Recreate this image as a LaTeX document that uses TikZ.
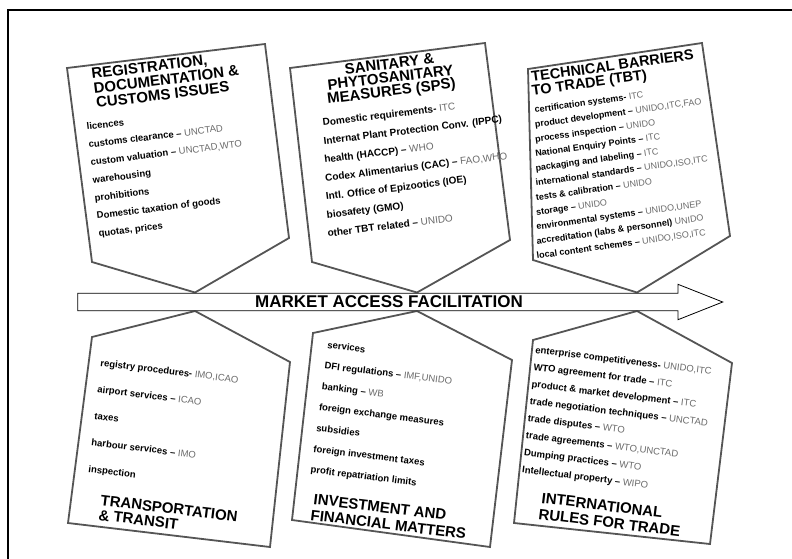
\documentclass[tikz,border=0pt]{standalone}
\usepackage{fontspec}
\setmainfont{Liberation Sans}
\usetikzlibrary{positioning}

\definecolor{panelgray}{HTML}{555555}
\definecolor{agency}{HTML}{6A6A6A}
\newcommand{\ag}[1]{{\mdseries\color{agency}#1}}

\tikzset{
  panel/.style={draw=panelgray, line width=1.8pt, fill=white, line join=miter},
  ttl/.style={inner sep=0pt, anchor=base west, font=\fontsize{15}{15}\selectfont\bfseries},
  itm/.style={inner sep=0pt, anchor=base west, font=\fontsize{9.5}{10}\selectfont\bfseries},
}

\begin{document}
\begin{tikzpicture}[x=1pt, y=-1pt]
	\useasboundingbox (0,0) rectangle (792,558);
	\draw[line width=1.2pt] (8,570) -- (8,10) -- (800,10);

	% panels
	\draw[panel] (67,68) -- (265,44) -- (289,238) -- (195,292.5) -- (92,262) -- cycle;
	\draw[panel] (290,68) -- (485,43) -- (510,240) -- (417,292.5) -- (312,262) -- cycle;
	\draw[panel] (528,69) -- (702,43) -- (730,236) -- (637,292.5) -- (533,260) -- cycle;
	\draw[panel] (195,311) -- (290,362) -- (270,547) -- (68,523) -- (92,337) -- cycle;
	\draw[panel] (417,311) -- (512,360) -- (490,547) -- (292,520) -- (313,333) -- cycle;
	\draw[panel] (637,311) -- (732,363) -- (710,544) -- (514,523) -- (533,340) -- cycle;

	% main arrow
	\draw[fill=white, line width=0.8pt] (77.7,293.3) -- (678,293.3) -- (678,284.3) -- (722.7,302)
		-- (678,319.7) -- (678,310.7) -- (77.7,310.7) -- cycle;
	\node[inner sep=0pt, anchor=base, font=\fontsize{17}{17}\selectfont\bfseries] (mafacil) at (389,307.5) {MARKET ACCESS FACILITATION};

	% registration
	\foreach \t [count=\i from 0] in {{REGISTRATION,}, DOCUMENTATION \&, CUSTOMS ISSUES}
		\node[ttl, rotate=7] (regt-\i) at ({92+2.3*\i},{79+14.5*\i}) {\t};
	\foreach \t [count=\i from 0] in {licences, {customs clearance -- \ag{UNCTAD}}, {custom valuation -- \ag{UNCTAD,WTO}},
		warehousing, prohibitions, Domestic taxation of goods, {quotas, prices}}
		\node[itm, rotate=7] (reg-\i) at ({87+2*\i},{130+17.8*\i}) {\t};

	% sps
	\foreach \t [count=\i from 0] in {SANITARY \&, PHYTOSANITARY, MEASURES (SPS)}
		\node[ttl, anchor=base, rotate=7] (spst-\i) at ({390+1*\i},{69+13.5*\i}) {\t};
	\foreach \t [count=\i from 0] in {{Domestic requirements- \ag{ITC}}, Internat Plant Protection Conv. (IPPC),
		{health (HACCP) -- \ag{WHO}}, {Codex Alimentarius (CAC) -- \ag{FAO,WHO}}, Intl. Office of Epizootics (IOE),
		biosafety (GMO), {other TBT related -- \ag{UNIDO}}}
		\node[itm, font=\fontsize{10}{10}\selectfont\bfseries, rotate=7] (sps-\i) at ({323+0.8*\i},{126+18.5*\i}) {\t};

	% tbt
	\foreach \t [count=\i from 0] in {TECHNICAL BARRIERS, TO TRADE (TBT)}
		\node[ttl, font=\fontsize{14.5}{15}\selectfont\bfseries, rotate=8] (tbtt-\i) at ({532+0.5*\i},{82+13.5*\i}) {\t};
	\foreach \t [count=\i from 0] in {{certification systems- \ag{ITC}}, {product development -- \ag{UNIDO,ITC,FAO}},
		{process inspection -- \ag{UNIDO}}, {National Enquiry Points -- \ag{ITC}}, {packaging and labeling -- \ag{ITC}},
		{international standards -- \ag{UNIDO,ISO,ITC}}, {tests \& calibration -- \ag{UNIDO}}, {storage -- \ag{UNIDO}},
		{environmental systems -- \ag{UNIDO,UNEP}}, {accreditation (labs \& personnel) \ag{UNIDO}},
		{local content schemes -- \ag{UNIDO,ISO,ITC}}}
		\node[itm, font=\fontsize{9}{10}\selectfont\bfseries, rotate=8] (tbt-\i) at ({535+0.2*\i},{113+14.6*\i}) {\t};

	% transport
	\foreach \t [count=\i from 0] in {TRANSPORTATION, \& TRANSIT}
		\node[ttl, rotate=-7] (trat-\i) at ({100-2*\i},{505+15*\i}) {\t};
	\foreach \t [count=\i from 0] in {{registry procedures- \ag{IMO,ICAO}}, {airport services -- \ag{ICAO}}, taxes,
		{harbour services -- \ag{IMO}}, inspection}
		\node[itm, rotate=-7] (tra-\i) at ({100-3*\i},{366+26.5*\i}) {\t};

	% investment
	\foreach \t [count=\i from 0] in {INVESTMENT AND, FINANCIAL MATTERS}
		\node[ttl, rotate=-7] (invt-\i) at ({313-3*\i},{504+16*\i}) {\t};
	\foreach \t [count=\i from 0] in {services, {DFI regulations -- \ag{IMF,UNIDO}}, {banking -- \ag{WB}},
		foreign exchange measures, subsidies, foreign investment taxes, profit repatriation limits}
		\node[itm, rotate=-7] (inv-\i) at ({327-2.8*\i},{348+20.8*\i}) {\t};

	% rules
	\foreach \t [count=\i from 0] in {INTERNATIONAL, RULES FOR TRADE}
		\node[ttl, rotate=-7] (rult-\i) at ({541-3*\i},{503+16*\i}) {\t};
	\foreach \t [count=\i from 0] in {{enterprise competitiveness- \ag{UNIDO,ITC}}, {WTO agreement for trade -- \ag{ITC}},
		{product \& market development -- \ag{ITC}}, {trade negotiation techniques -- \ag{UNCTAD}},
		{trade disputes -- \ag{WTO}}, {trade agreements -- \ag{WTO,UNCTAD}}, {Dumping practices -- \ag{WTO}},
		{Intellectual property -- \ag{WIPO}}}
		\node[itm, rotate=-7] (rul-\i) at ({535-1.9*\i},{353+17.1*\i}) {\t};
\end{tikzpicture}
\end{document}
